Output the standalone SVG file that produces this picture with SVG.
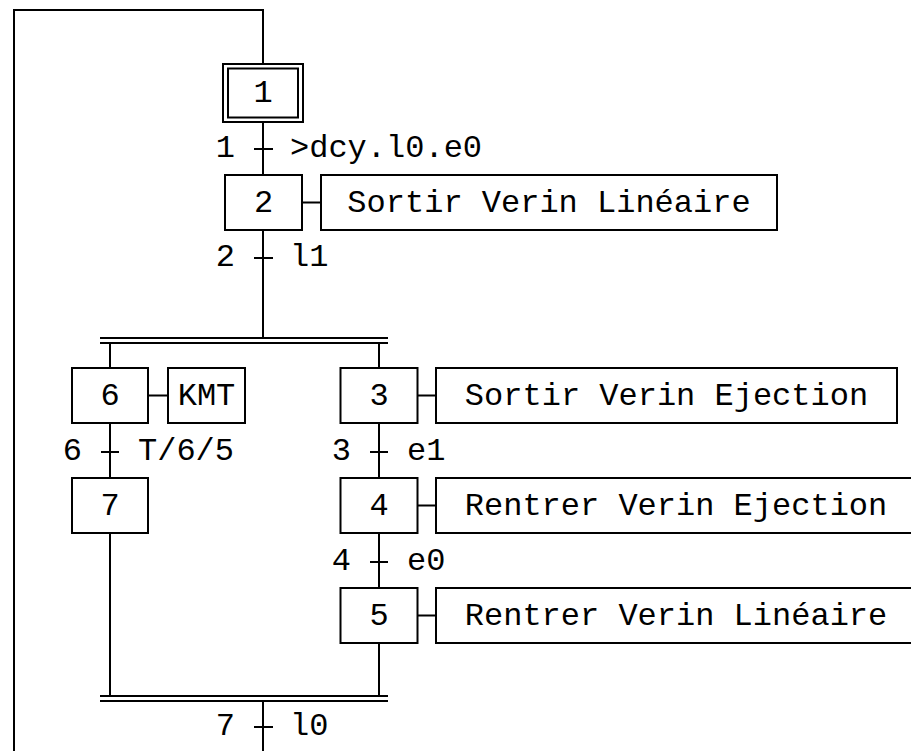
<svg xmlns="http://www.w3.org/2000/svg" width="911" height="751" viewBox="0 0 911 751">
<style>
rect{fill:#fff;stroke:#000;stroke-width:2}
.ln{fill:none;stroke:#000;stroke-width:2}
text{font-family:"Liberation Mono","Courier New",monospace;font-size:32px;fill:#000}
.c{text-anchor:middle}
.e{text-anchor:end}
</style>
<rect x="0" y="0" width="911" height="751" style="stroke:none"/>
<g id="connectors" class="ln">
<path d="M263,64 V10 H14 V751"/>
<path d="M263,122 V175 M254,149 H273"/>
<path d="M263,230 V338 M254,258 H273"/>
<path d="M100,338 H388 M100,343 H388"/>
<path d="M110,343 V368 M379,343 V368"/>
<path d="M110,423 V478 M101,452 H119"/>
<path d="M110,533 V696"/>
<path d="M379,423 V478 M370,452 H388"/>
<path d="M379,533 V588 M370,562 H388"/>
<path d="M379,643 V696"/>
<path d="M100,696 H388 M100,701 H388"/>
<path d="M263,701 V751 M254,727 H273"/>
<path d="M302,202.5 H321 M148,395.5 H168 M417.5,395.5 H436 M417.5,505.5 H436 M417.5,615.5 H436"/>
</g>
<g id="t1"><text class="e" x="235" y="157">1</text><text x="290" y="157">&gt;dcy.l0.e0</text></g>
<g id="t2"><text class="e" x="235" y="266">2</text><text x="290" y="266">l1</text></g>
<g id="t6"><text class="e" x="82" y="460">6</text><text x="138" y="460">T/6/5</text></g>
<g id="t3"><text class="e" x="351" y="460">3</text><text x="407" y="460">e1</text></g>
<g id="t4"><text class="e" x="351" y="570">4</text><text x="407" y="570">e0</text></g>
<g id="t7"><text class="e" x="235" y="735">7</text><text x="290" y="735">l0</text></g>
<g id="step1"><rect x="223" y="64" width="80" height="58"/><rect x="228" y="68.5" width="70" height="49"/><text class="c" x="263" y="102">1</text></g>
<g id="step2"><rect x="225" y="175" width="77" height="55"/><text class="c" x="263.5" y="212">2</text></g>
<g id="action2"><rect x="321" y="175" width="456" height="55"/><text class="c" x="549" y="212">Sortir Verin Linéaire</text></g>
<g id="step6"><rect x="72" y="368" width="76" height="55"/><text class="c" x="110" y="405">6</text></g>
<g id="action6"><rect x="168" y="368" width="77" height="55"/><text class="c" x="206.5" y="405">KMT</text></g>
<g id="step7"><rect x="72" y="478" width="76" height="55"/><text class="c" x="110" y="515">7</text></g>
<g id="step3"><rect x="340.5" y="368" width="77" height="55"/><text class="c" x="379" y="405">3</text></g>
<g id="action3"><rect x="436" y="368" width="461" height="55"/><text class="c" x="666.5" y="405">Sortir Verin Ejection</text></g>
<g id="step4"><rect x="340.5" y="478" width="77" height="55"/><text class="c" x="379" y="515">4</text></g>
<g id="action4"><rect x="436" y="478" width="480" height="55"/><text class="c" x="676" y="515">Rentrer Verin Ejection</text></g>
<g id="step5"><rect x="340.5" y="588" width="77" height="55"/><text class="c" x="379" y="625">5</text></g>
<g id="action5"><rect x="436" y="588" width="480" height="55"/><text class="c" x="676" y="625">Rentrer Verin Linéaire</text></g>
</svg>
